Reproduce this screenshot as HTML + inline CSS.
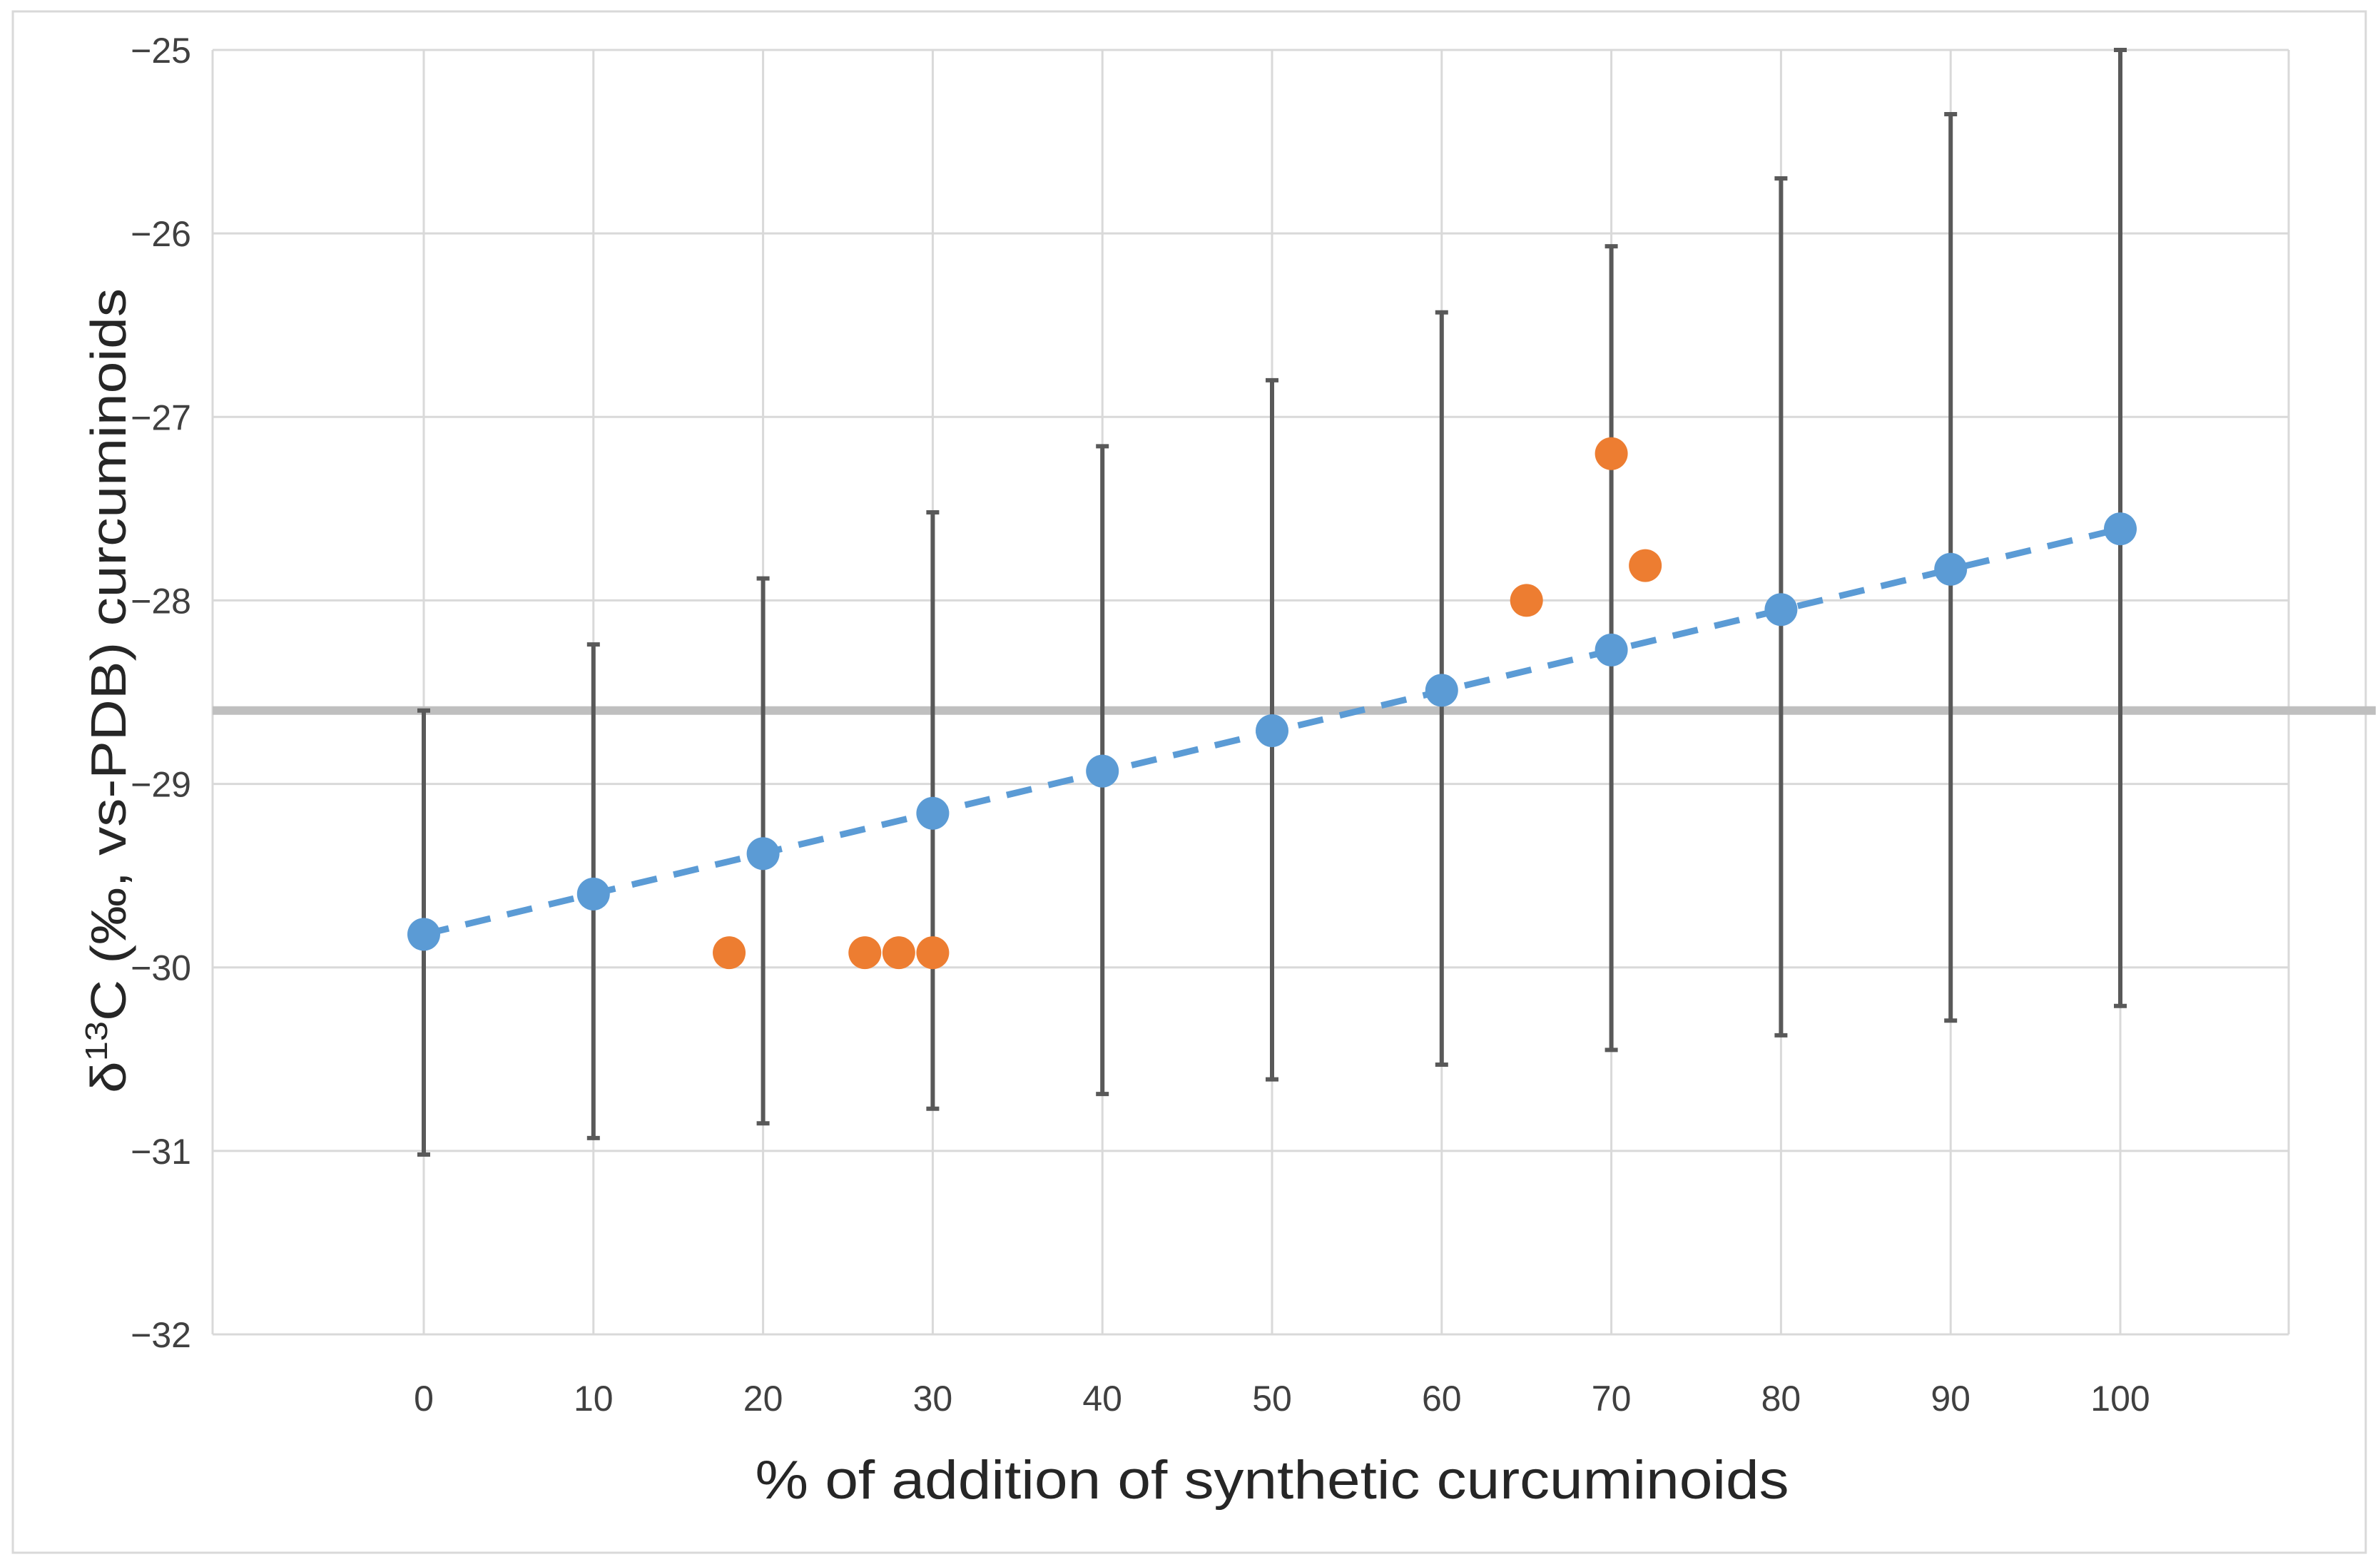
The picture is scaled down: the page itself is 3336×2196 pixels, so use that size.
<!DOCTYPE html>
<html><head><meta charset="utf-8"><style>
html,body{margin:0;padding:0;background:#fff}
svg{display:block;font-family:"Liberation Sans","DejaVu Sans",sans-serif}
</style></head><body>
<svg id="chart" width="3336" height="2196" viewBox="0 0 3336 2196" xmlns="http://www.w3.org/2000/svg">
<rect x="18" y="16" width="3298" height="2160" fill="#fff" stroke="#d9d9d9" stroke-width="3"/>
<g id="grid"></g>
<g id="axes"></g>
<g id="marks"></g>
<text x="1783" y="2100" font-size="76" text-anchor="middle" textLength="1449" lengthAdjust="spacingAndGlyphs" fill="#262626">% of addition of synthetic curcuminoids</text>
<text transform="translate(176,968) rotate(-90)" font-size="70" text-anchor="middle" textLength="1128" lengthAdjust="spacingAndGlyphs" fill="#262626">δ<tspan font-size="44" dy="-26">13</tspan><tspan dy="26">C (‰, vs-PDB) curcuminoids</tspan></text>
</svg>
<script>
const xCats = [0,10,20,30,40,50,60,70,80,90,100];
const blueY = [-29.82,-29.6,-29.38,-29.16,-28.93,-28.71,-28.49,-28.27,-28.05,-27.83,-27.61];
const errTop = [-28.6,-28.24,-27.88,-27.52,-27.16,-26.8,-26.43,-26.07,-25.7,-25.35,-25.0];
const errBottom = [-31.02,-30.93,-30.85,-30.77,-30.69,-30.61,-30.53,-30.45,-30.37,-30.29,-30.21];
const orangeX = [18,26,28,30,65,70,72];
const orangeY = [-29.92,-29.92,-29.92,-29.92,-28.0,-27.2,-27.81];
const yTicks = [-25,-26,-27,-28,-29,-30,-31,-32];
const yTickLabels = ["−25","−26","−27","−28","−29","−30","−31","−32"];
const refLine = -28.6;

const NS="http://www.w3.org/2000/svg";
const L=298,R=3208,T=70,B=1870;
const sx=v=>594+(v/100)*(2972-594);
const sy=v=>T+(-25-v)/7*(B-T);
function mk(tag,attrs,parent){const e=document.createElementNS(NS,tag);for(const k in attrs)e.setAttribute(k,attrs[k]);parent.appendChild(e);return e;}
const grid=document.getElementById('grid'),axes=document.getElementById('axes'),marks=document.getElementById('marks');
yTicks.forEach((t,i)=>{
  const g=mk('line',{x1:L,x2:R,y1:sy(t),y2:sy(t),stroke:'#d9d9d9','stroke-width':3},grid);
  
  
  const lb=mk('text',{x:268,y:sy(t)+18,'font-size':50,'text-anchor':'end',fill:'#404040'},axes);
  lb.textContent=yTickLabels[i];
  
  
});
xCats.forEach(c=>{
  const g=mk('line',{x1:sx(c),x2:sx(c),y1:T,y2:B,stroke:'#d9d9d9','stroke-width':3},grid);
  
  
  const lb=mk('text',{x:sx(c),y:1977,'font-size':50,'text-anchor':'middle',fill:'#404040'},axes);
  lb.textContent=String(c);
  
  
});
const la=mk('line',{x1:L,x2:L,y1:T,y2:B,stroke:'#d9d9d9','stroke-width':3},axes);


const ra=mk('line',{x1:R,x2:R,y1:T,y2:B,stroke:'#d9d9d9','stroke-width':3},axes);


const rl=mk('line',{x1:L,x2:3336-6,y1:sy(refLine),y2:sy(refLine),stroke:'#bfbfbf','stroke-width':12},marks);


xCats.forEach((c,i)=>{
  const x=sx(c);
  const e=mk('line',{x1:x,x2:x,y1:sy(errTop[i]),y2:sy(errBottom[i]),stroke:'#595959','stroke-width':6},marks);
  
  
  [errTop[i],errBottom[i]].forEach(v=>{
    const cp=mk('line',{x1:x-9,x2:x+9,y1:sy(v),y2:sy(v),stroke:'#595959','stroke-width':6},marks);
    
    
  });
});
const tl=mk('line',{x1:sx(xCats[0]),y1:sy(blueY[0]),x2:sx(xCats[xCats.length-1]),y2:sy(blueY[blueY.length-1]),stroke:'#5b9bd5','stroke-width':9,'stroke-dasharray':'36 24'},marks);


xCats.forEach((c,i)=>{
  const p=mk('circle',{cx:sx(c),cy:sy(blueY[i]),r:23,fill:'#5b9bd5'},marks);
  
  
});
orangeX.forEach((c,i)=>{
  const p=mk('circle',{cx:sx(c),cy:sy(orangeY[i]),r:23,fill:'#ed7d31'},marks);
  
  
});
</script>
</body></html>
